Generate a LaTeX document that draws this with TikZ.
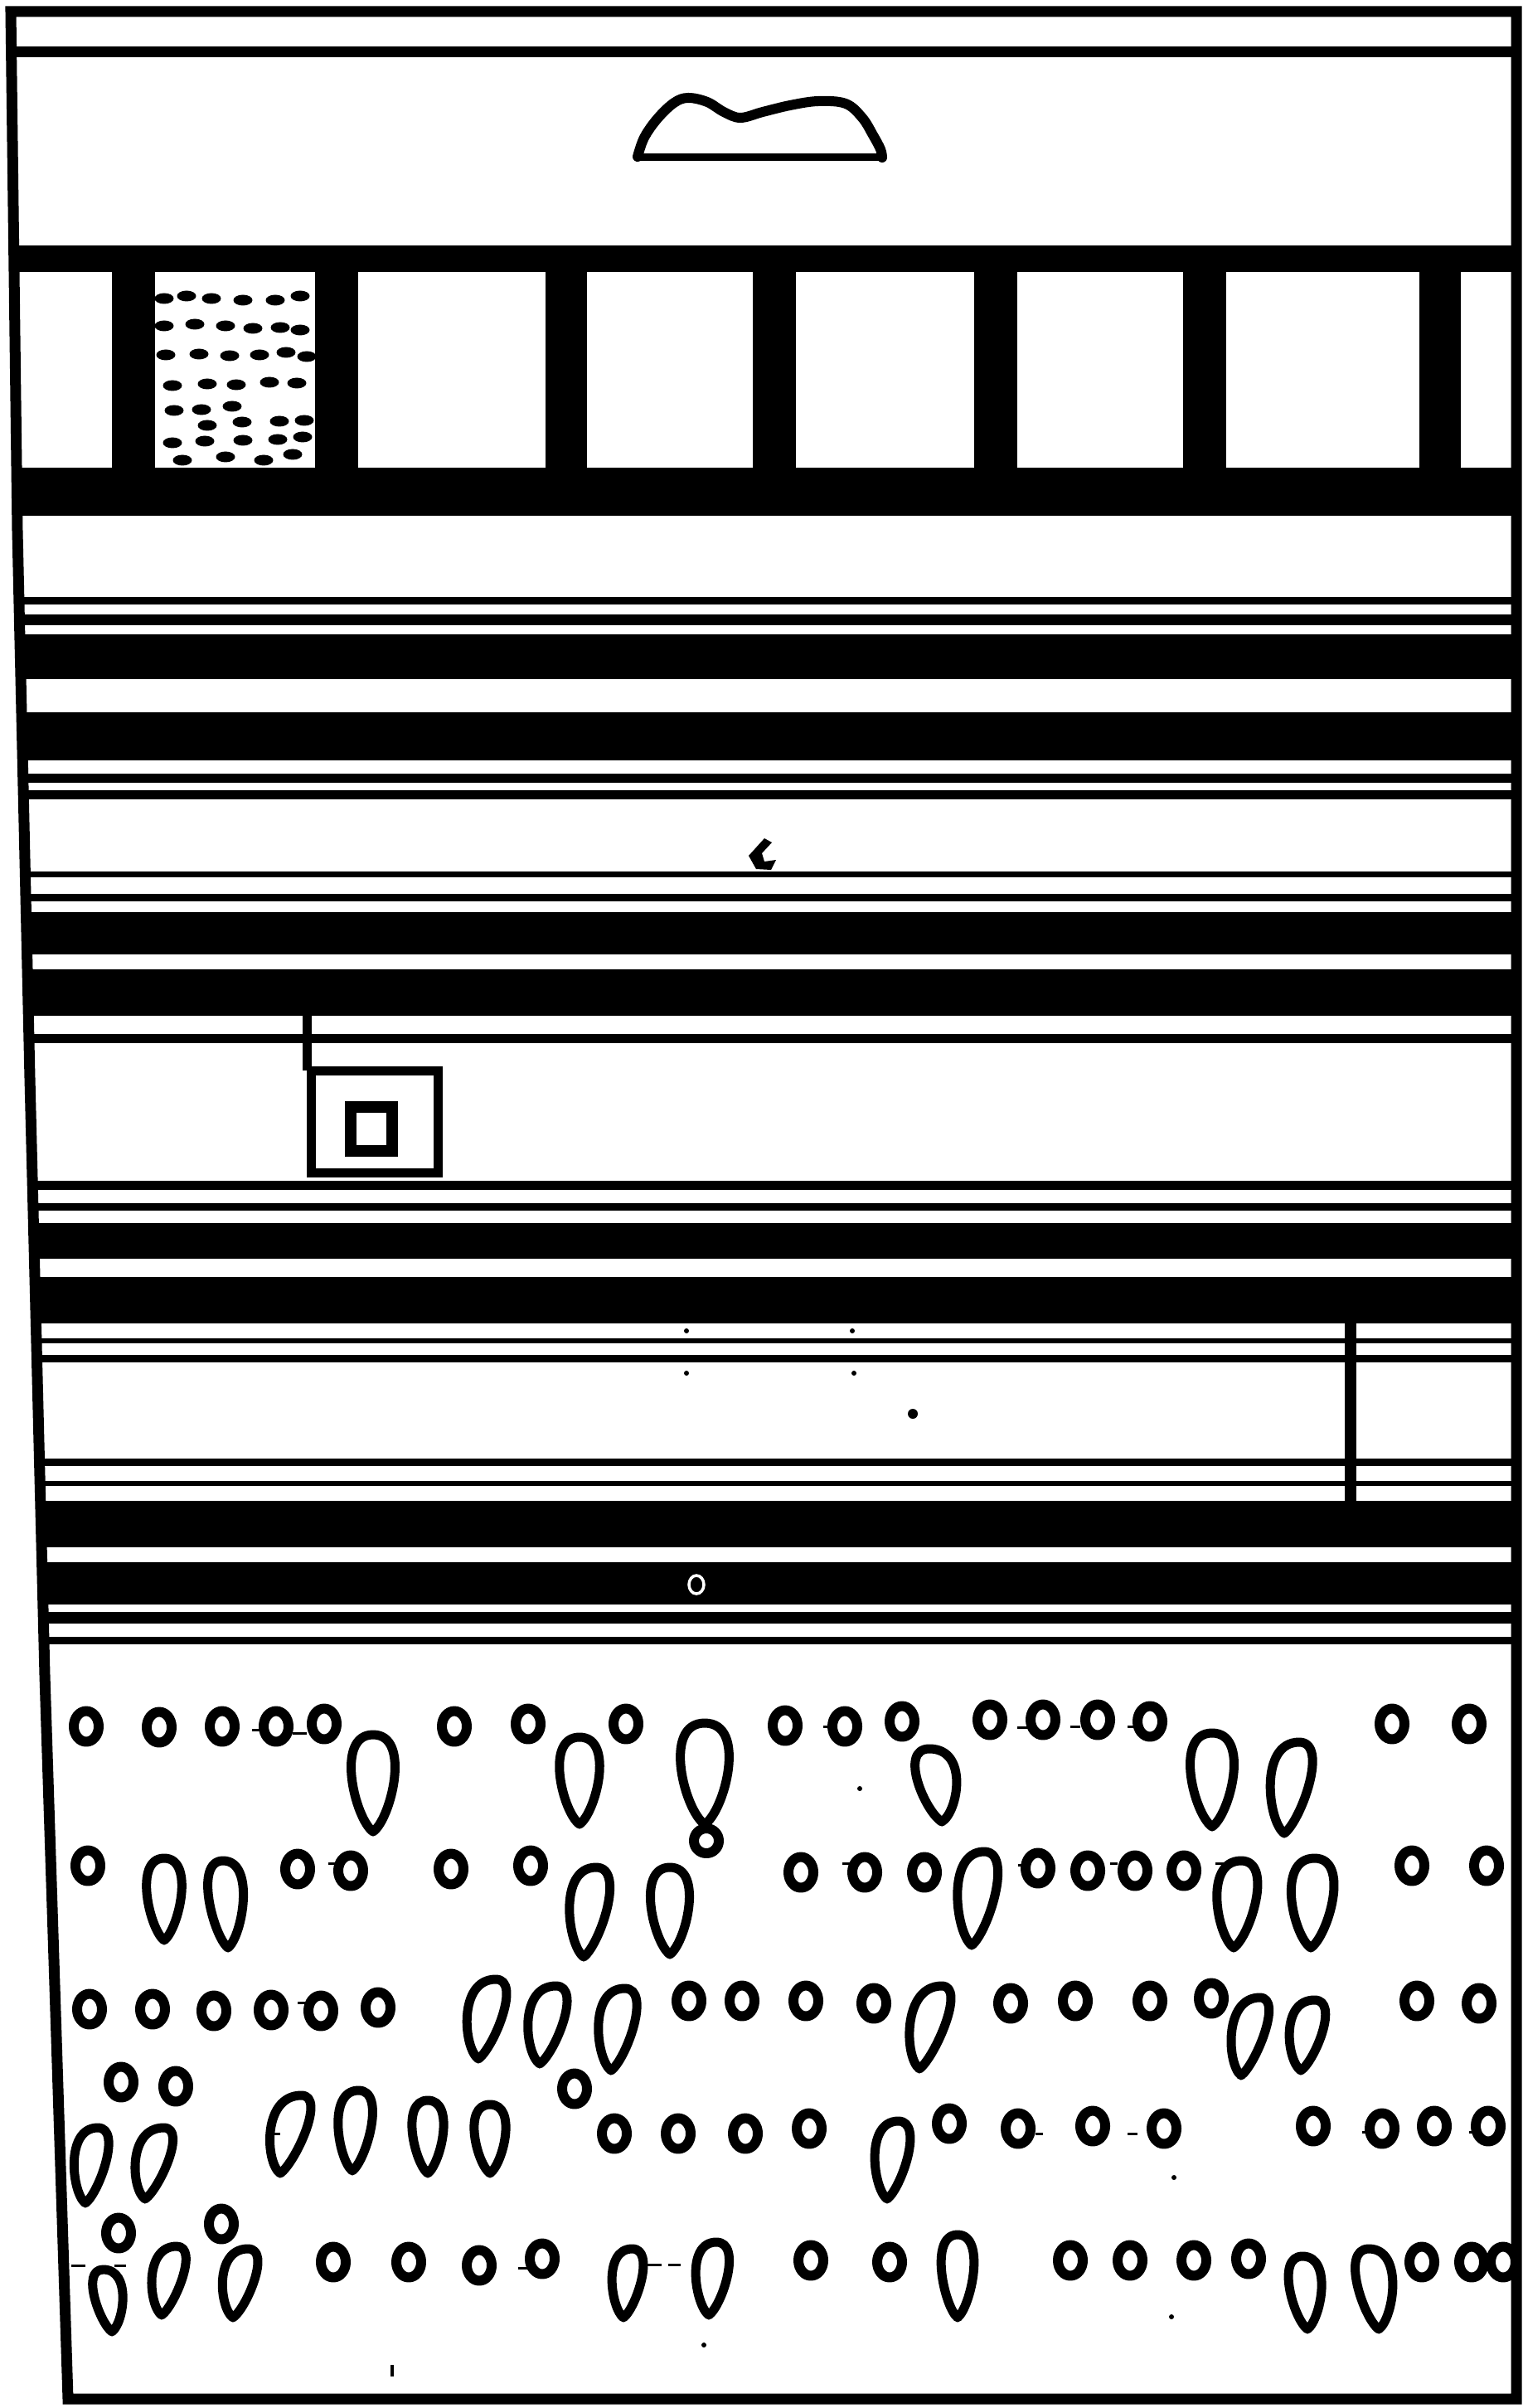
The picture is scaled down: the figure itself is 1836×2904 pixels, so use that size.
\documentclass[tikz,border=0pt]{standalone}
\usetikzlibrary{calc}
\tikzset{
  ink/.style={fill=black},
  frameline/.style={draw=black, line width=1.3mm, line join=miter},
  ring/.style={draw=black, line width=1.2mm, line join=round},
  dropline/.style={draw=black, line width=1.1mm, line join=round},
  nub/.style={draw=black, line width=0.3mm},
  boxline/.style={draw=black, line width=1.1mm},
}
\newcommand{\ovl}[2]{\draw[ring] (#1,#2) ellipse [x radius=15, y radius=18.5];}
\newcommand{\tear}[5]{\draw[dropline] ({#1+#5},{#3-5}) .. controls ({#1+#5+0.6*#4},{#3-5-0.12*(#3-#2)}) and ({#1+1.3*#4},{#2+5}) .. ({#1-0.5*#5},{#2+5}) .. controls ({#1-1.3*#4},{#2+5}) and ({#1+#5-0.6*#4},{#3-5-0.12*(#3-#2)}) .. ({#1+#5},{#3-5}) -- cycle;}
\begin{document}
\begin{tikzpicture}[x=0.01cm,y=-0.01cm]
\useasboundingbox (0,0) rectangle (1836,2904);
\fill[white] (0,0) rectangle (1836,2904);
% stripes and posts
\begin{scope}
\clip (13,14) -- (1829,14) -- (1829,2893) -- (82,2893) -- (54,2020) -- (36,1300) -- (21,640) -- cycle;
\foreach \a/\b in {56/69, 296/328, 564/622, 720/729, 741/754, 765/819, 859/917, 933/944, 953/964, 1051/1058, 1078/1087, 1100/1151, 1169/1225, 1247/1258, 1424/1435, 1451/1460, 1475/1518, 1540/1596, 1614/1620, 1634/1643, 1759/1768, 1786/1792, 1810/1866, 1884/1935, 1944/1958, 1974/1983}
  \fill[ink] (0,\a) rectangle (1836,\b);
\foreach \a/\b in {135/187, 380/432, 658/708, 908/960, 1175/1227, 1427/1479, 1712/1762}
  \fill[ink] (\a,326) rectangle (\b,566);
\end{scope}
% frame
\draw[frameline] (13,14) -- (1829,14) -- (1829,2893) -- (82,2893) -- (54,2020) -- (36,1300) -- (21,640) -- cycle;
% mound
\draw[draw=black, line width=1.2mm, line cap=round, line join=round] plot[smooth, tension=0.6] coordinates {(769,189) (777,166) (793,143) (813,124) (830,118) (853,123) (873,135) (893,142) (920,135) (953,127) (987,122) (1020,125) (1040,142) (1053,163) (1062,180) (1064,190)};
\draw[draw=black, line width=0.9mm] (767,190) -- (1066,190);
% dashes in the panel
\foreach \x/\y in {198/360, 225/357, 255/360, 293/362, 332/362, 362/357,
  198/393, 235/391, 272/393, 305/396, 338/395, 362/398,
  200/428, 240/427, 277/429, 313/428, 345/425, 370/430,
  208/465, 250/463, 285/464, 325/461, 358/462,
  210/495, 243/494, 280/490,
  250/513, 292/509, 337/508, 367/507,
  208/534, 247/532, 293/531, 335/530, 365/527,
  220/555, 272/551, 318/555, 353/548}
  \fill[ink] (\x,\y) ellipse [x radius=11.5, y radius=6.5];
% box with inner square
\draw[boxline] (370,1225) -- (370,1291);
\draw[boxline] (375,1291) rectangle (528,1414);
\draw[draw=black, line width=1.4mm] (423,1335) rectangle (473,1388);
% right vertical
\draw[draw=black, line width=1.4mm] (1629,1596) -- (1629,1810);
% specks
\fill[ink] (922,1011) -- (931,1016) -- (919,1029) -- (922,1039) -- (936,1037) -- (930,1049) -- (912,1048) -- (903,1032) -- cycle;
\fill[ink] (1101,1705) circle [radius=6];
\foreach \x/\y in {828/1605, 1028/1605, 828/1656, 1030/1656, 1037/2157, 849/2828, 1416/2626, 1413/2794}
  \fill[ink] (\x,\y) circle [radius=3];
\draw[draw=black, line width=0.4mm] (473,2852) -- (473,2866);
\draw[white, line width=0.35mm] (840,1911) ellipse [x radius=9, y radius=11];
% circles
\foreach \x/\y in {104/2082, 192/2083, 268/2082, 333/2082, 391/2079, 548/2082, 637/2079, 755/2079, 947/2081, 1019/2082, 1088/2076, 1194/2074, 1258/2074, 1324/2074, 1387/2076, 1679/2079, 1772/2079,
  106/2250, 359/2254, 423/2256, 544/2254, 640/2250, 966/2258, 1043/2258, 1115/2258, 1252/2253, 1312/2256, 1369/2256, 1428/2256, 1703/2250, 1793/2250,
  108/2423, 184/2423, 258/2425, 327/2424, 387/2425, 456/2421, 831/2413, 895/2413, 972/2413, 1054/2416, 1219/2416, 1297/2413, 1387/2413, 1461/2410, 1709/2413, 1784/2416,
  146/2511, 212/2516, 693/2519, 741/2573, 818/2573, 899/2573, 976/2567, 1145/2561, 1228/2567, 1318/2564, 1404/2567, 1584/2564, 1667/2567, 1730/2564, 1795/2564,
  143/2693, 267/2682, 402/2728, 493/2728, 578/2732, 654/2724, 978/2726, 1073/2728, 1291/2726, 1363/2726, 1440/2726, 1506/2724, 1715/2728, 1775/2728, 1813/2728}
  {\ovl{\x}{\y}}
\draw[ring] (852,2220) circle [radius=15];
% drops
\tear{450}{2087}{2214}{36}{0}
\tear{699}{2090}{2205}{33}{0}
\tear{850}{2073}{2205}{40}{0}
\tear{1126}{2104}{2202}{33}{10}
\tear{1462}{2085}{2208}{36}{0}
\tear{1561}{2096}{2216}{33}{-12}
\tear{198}{2236}{2345}{29}{0}
\tear{271}{2239}{2354}{29}{4}
\tear{714}{2247}{2365}{32}{-10}
\tear{808}{2247}{2362}{32}{0}
\tear{1182}{2228}{2351}{32}{-10}
\tear{1494}{2239}{2354}{33}{-6}
\tear{1584}{2236}{2354}{35}{-3}
\tear{591}{2382}{2488}{30}{-14}
\tear{664}{2390}{2494}{30}{-13}
\tear{748}{2393}{2502}{30}{-11}
\tear{1127}{2390}{2500}{30}{-18}
\tear{1512}{2404}{2508}{28}{-15}
\tear{1580}{2407}{2502}{28}{-11}
\tear{113}{2561}{2662}{27}{-10}
\tear{190}{2561}{2657}{28}{-15}
\tear{355}{2522}{2626}{30}{-17}
\tear{430}{2516}{2623}{28}{-5}
\tear{516}{2528}{2626}{26}{0}
\tear{591}{2533}{2626}{26}{0}
\tear{1079}{2553}{2657}{28}{-9}
\tear{128}{2732}{2817}{24}{7}
\tear{207}{2704}{2797}{26}{-12}
\tear{293}{2707}{2800}{27}{-12}
\tear{759}{2707}{2800}{25}{-7}
\tear{861}{2699}{2797}{27}{-6}
\tear{1155}{2690}{2800}{27}{0}
\tear{1573}{2716}{2814}{27}{4}
\tear{1655}{2707}{2814}{30}{8}
% small ticks between rings
\foreach \a/\b/\y in {304/316/2086, 353/370/2090, 993/1004/2082, 1227/1239/2083, 1291/1303/2082, 1360/1372/2082,
  396/410/2247, 1016/1028/2247, 1228/1237/2249, 1339/1348/2247, 1466/1476/2247,
  359/379/2415, 327/338/2573, 1249/1258/2573, 1360/1372/2573, 1643/1653/2571, 1772/1781/2571,
  86/103/2732, 138/152/2732, 625/637/2735, 780/798/2731, 806/821/2731}
  \draw[nub] (\a,\y) -- (\b,\y);
\end{tikzpicture}
\end{document}
